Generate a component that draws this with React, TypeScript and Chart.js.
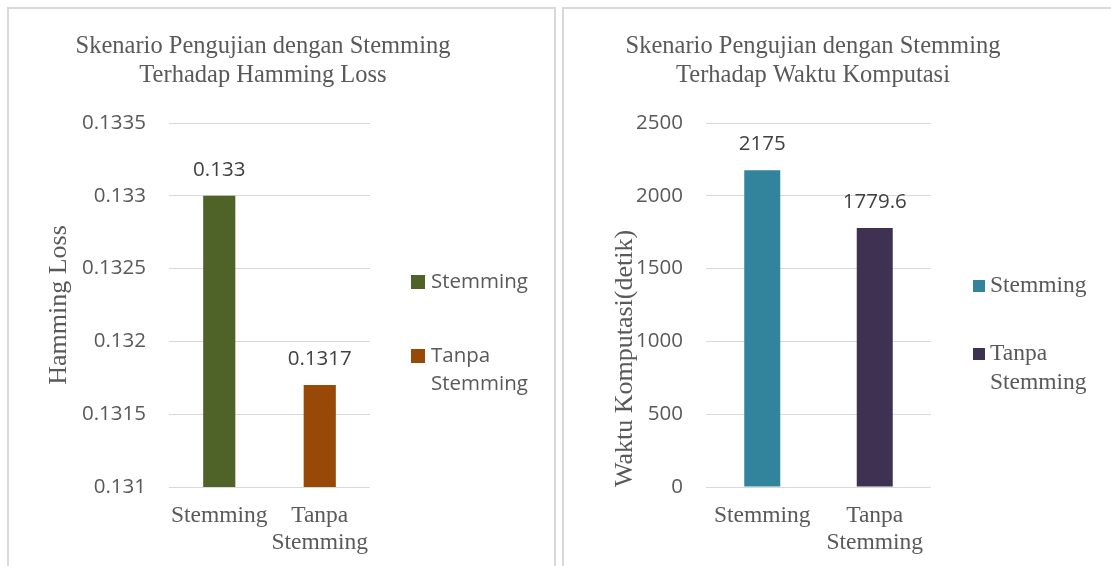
import React, { useEffect, useRef } from 'react';
import { Chart, registerables } from 'chart.js';

Chart.register(...registerables);

// ---- data ----
const categories = ['Stemming', 'Tanpa Stemming'];
const hammingLossValues = [0.133, 0.1317];
const waktuValues = [2175, 1779.6];
const hammingColors = ['#4F6228', '#984807'];
const waktuColors = ['#31849B', '#3F3151'];
const hammingTitle = ['Skenario Pengujian dengan Stemming', 'Terhadap Hamming Loss'];
const waktuTitle = ['Skenario Pengujian dengan Stemming', 'Terhadap Waktu Komputasi'];
const hammingAxisTitle = 'Hamming Loss';
const waktuAxisTitle = 'Waktu Komputasi(detik)';
// [min, max, step]
const hammingRange = [0.131, 0.1335, 0.0005];
const waktuRange = [0, 2500, 500];

const GREY = '#595959';
const SERIF = "'Liberation Serif', 'Times New Roman', serif";
const SANS = "'Open Sans', sans-serif";

type Cfg = {
  labels: string[];
  values: number[];
  colors: string[];
  range: number[];
  titleLines: string[];
  titleCenterX: number;
  axisTitle: string;
  axisTitleAlign: 'start' | 'center' | 'end';
  axisTitlePad: number;
  yAxisWidth: number;
  padRight: number;
  legend: { boxX: number; textX: number; box: number; itemY: number[]; lineH: number; font: string };
};

function buildChart(canvas: HTMLCanvasElement, cfg: Cfg) {
  const { labels, values, colors, range, titleLines, titleCenterX, axisTitle, axisTitleAlign, axisTitlePad, yAxisWidth, padRight, legend } = cfg;
  const decor = {
    id: 'decor',
    afterDraw(chart: any) {
      const ctx = chart.ctx as CanvasRenderingContext2D;
      ctx.save();
      // title
      ctx.fillStyle = GREY;
      ctx.font = `24.5px ${SERIF}`;
      ctx.textAlign = 'center';
      ctx.textBaseline = 'alphabetic';
      titleLines.forEach((t, i) => ctx.fillText(t, titleCenterX, 44 + i * 29));
      // data labels
      const meta = chart.getDatasetMeta(0);
      ctx.font = `20.5px ${SANS}`;
      ctx.fillStyle = '#404040';
      ctx.textBaseline = 'middle';
      meta.data.forEach((bar: any, i: number) => {
        ctx.fillText(String(values[i]), bar.x, bar.y - 26);
      });
      // legend
      const area = chart.chartArea;
      labels.forEach((lab, i) => {
        const yc = area.top + legend.itemY[i];
        ctx.fillStyle = colors[i];
        ctx.fillRect(area.right + legend.boxX, yc - legend.box / 2, legend.box, legend.box);
        ctx.fillStyle = GREY;
        ctx.font = legend.font;
        ctx.textAlign = 'left';
        ctx.textBaseline = 'middle';
        lab.split(' ').forEach((w, j) => ctx.fillText(w, area.right + legend.textX, yc + j * legend.lineH));
      });
      ctx.restore();
    },
  };

  return new Chart(canvas, {
    type: 'bar',
    data: {
      labels,
      datasets: [
        {
          data: values,
          backgroundColor: colors,
          barPercentage: 0.32,
          categoryPercentage: 1,
        },
      ],
    },
    options: {
      animation: false,
      responsive: false,
      devicePixelRatio: 1,
      layout: { padding: { top: 114, right: padRight, left: 0, bottom: 0 } },
      plugins: {
        legend: { display: false },
        title: { display: false },
        tooltip: { enabled: false },
      },
      scales: {
        x: {
          grid: { display: false, drawTicks: false },
          border: { display: false },
          ticks: {
            color: GREY,
            font: { family: SERIF, size: 23.5, lineHeight: 1.15 },
            padding: 15,
            maxRotation: 0,
            autoSkip: false,
            callback: (_v: any, i: number) => labels[i].split(' '),
          },
          afterFit: (s: any) => {
            s.height = 79;
          },
        },
        y: {
          min: range[0],
          max: range[1],
          grid: { color: '#D9D9D9', drawTicks: false, lineWidth: 1 },
          border: { display: false },
          ticks: {
            stepSize: range[2],
            color: GREY,
            font: { family: SANS, size: 20.5 },
            padding: 23,
            callback: (v: any) => String(+Number(v).toFixed(4)),
          },
          title: {
            display: true,
            text: axisTitle,
            color: GREY,
            align: axisTitleAlign,
            font: { family: SERIF, size: 26, lineHeight: 1.2 },
            padding: { top: axisTitlePad, bottom: 0 },
          },
          afterFit: (s: any) => {
            s.width = yAxisWidth;
          },
        },
      },
    } as any,
    plugins: [decor],
  });
}

function ChartCanvas(props: { cfg: Cfg; left: number; width: number }) {
  const ref = useRef<HTMLCanvasElement>(null);
  useEffect(() => {
    if (!ref.current) return;
    const c = buildChart(ref.current, props.cfg);
    return () => c.destroy();
  }, []);
  return (
    <canvas
      ref={ref}
      width={props.width}
      height={557}
      style={{ position: 'absolute', left: props.left, top: 9, width: props.width, height: 557, display: 'block' }}
    />
  );
}

const leftCfg: Cfg = {
  labels: categories,
  values: hammingLossValues,
  colors: hammingColors,
  range: hammingRange,
  titleLines: hammingTitle,
  titleCenterX: 254,
  axisTitle: hammingAxisTitle,
  axisTitleAlign: 'center',
  axisTitlePad: 35,
  yAxisWidth: 160,
  padRight: 184,
  legend: { boxX: 41, textX: 61, box: 14, itemY: [159, 233], lineH: 28, font: `20.5px ${SANS}` },
};

const rightCfg: Cfg = {
  labels: categories,
  values: waktuValues,
  colors: waktuColors,
  range: waktuRange,
  titleLines: waktuTitle,
  titleCenterX: 249,
  axisTitle: waktuAxisTitle,
  axisTitleAlign: 'start',
  axisTitlePad: 46,
  yAxisWidth: 142,
  padRight: 180,
  legend: { boxX: 42, textX: 59, box: 12, itemY: [163, 231], lineH: 29, font: `23.5px ${SERIF}` },
};

export default function App() {
  return (
    <div style={{ position: 'fixed', inset: 0, overflow: 'hidden', background: '#ffffff' }}>
      <div style={{ position: 'absolute', left: 7, top: 7, width: 545, height: 600, border: '2px solid #D9D9D9' }} />
      <div style={{ position: 'absolute', left: 562, top: 7, width: 600, height: 600, border: '2px solid #D9D9D9' }} />
      <ChartCanvas cfg={leftCfg} left={9} width={545} />
      <ChartCanvas cfg={rightCfg} left={564} width={547} />
    </div>
  );
}
